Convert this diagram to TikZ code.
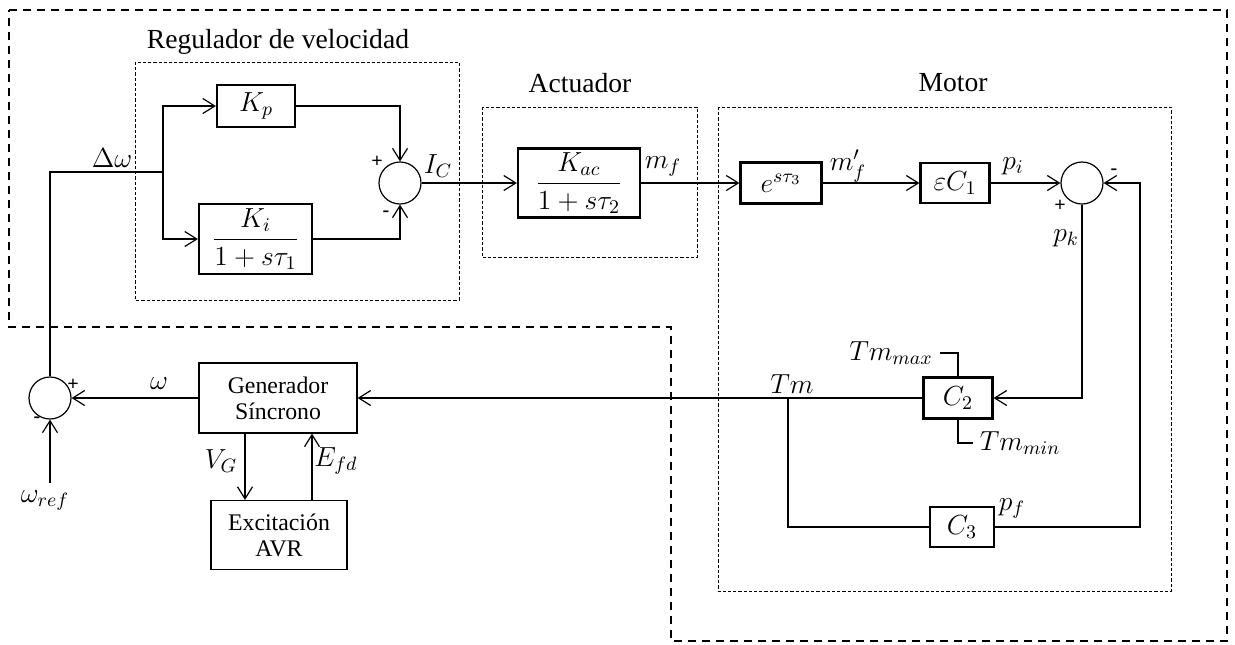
\documentclass[tikz,border=0pt]{standalone}
\usepackage{fix-cm}
\usepackage{amsmath}
\usepackage{fontspec}
\setmainfont{Liberation Serif}
\usetikzlibrary{arrows.meta}

\tikzset{
  tfbox/.style={draw, line width=1.1pt, inner sep=1pt},
  genbox/.style={draw, line width=0.6pt, align=center, inner sep=1pt,
    font=\fontsize{11.9}{13}\selectfont},
  sumnode/.style={draw, circle, line width=0.6pt, minimum size=21pt, inner sep=0pt},
  groupbox/.style={line width=0.5pt, dash pattern=on 1.6pt off 1pt},
  outerline/.style={line width=1pt, dash pattern=on 4pt off 3pt},
  sgn/.style={font=\fontsize{10}{11}\selectfont\bfseries, inner sep=0pt},
}

\begin{document}
\begin{tikzpicture}[x=0.5pt, y=-0.5pt, line width=0.6pt,
  >={Straight Barb[length=6pt,width=7.5pt]},
  every node/.append style={font=\fontsize{13.8}{16}\selectfont}]
\useasboundingbox (0,0) rectangle (1235,644);

% outer frame and groups
\draw[outerline] (9,10) -- (1227,10) -- (1227,641) -- (671,641) -- (671,327) -- (9,327) -- cycle;
\draw[groupbox] (135,62) rectangle (459,300);
\draw[groupbox] (482,107) rectangle (697,257);
\draw[groupbox] (718,107) rectangle (1171,591);
\node (treg) at (278,42) {Regulador de velocidad};
\node (tact) at (580,83) {Actuador};
\node (tmot) at (953,83) {Motor};

% regulador
\node[tfbox, minimum width=39pt, minimum height=21pt] (kp) at (256,106) {$K_p$};
\node[tfbox, minimum width=56.5pt, minimum height=35pt] (ki) at (255.5,239) {$\displaystyle\frac{K_i}{1+s\tau_1}$};
\node[sumnode] (s1) at (400,183) {};
\coordinate (br1) at (163,172);

% actuador y motor
\node[tfbox, minimum width=61pt, minimum height=34.5pt] (kac) at (579,183) {$\displaystyle\frac{K_{ac}}{1+s\tau_2}$};
\node[tfbox, minimum width=40.5pt, minimum height=20.5pt] (edel) at (781,183) {$e^{s\tau_3}$};
\node[tfbox, minimum width=34.5pt, minimum height=20pt] (ec1) at (955,183) {$\varepsilon C_1$};
\node[sumnode] (s2) at (1082,183) {};
\node[tfbox, minimum width=34.5pt, minimum height=20.5pt] (c2) at (958,398) {$C_2$};
\node[tfbox, minimum width=32pt, minimum height=20pt] (c3) at (962,527) {$C_3$};
\coordinate (tm) at (788,398);
\coordinate (fbtop) at (1140,183);
\node (tmmax) at (891,353) {$Tm_{max}$};
\node (tmmin) at (1020,443) {$Tm_{min}$};

% generador
\node[genbox, minimum width=79pt, minimum height=35pt] (gen) at (278,398) {Generador\\Síncrono};
\node[genbox, minimum width=68pt, minimum height=34.5pt] (exc) at (279,535) {Excitación\\AVR};
\node[sumnode] (s3) at (50,398) {};
\coordinate (wrefin) at (50,483);

% connectors
\draw (s3) |- (br1);
\draw[->] (br1) |- (kp);
\draw[->] (br1) |- (ki);
\draw[->] (kp) -| (s1);
\draw[->] (ki) -| (s1);
\draw[->] (s1) -- (kac);
\draw[->] (kac) -- (edel);
\draw[->] (edel) -- (ec1);
\draw[->] (ec1) -- (s2);
\draw[->] (s2) |- (c2);
\draw[->] (c3) -| (fbtop) -- (s2);
\draw (tm) |- (c3);
\draw (c2.north) |- (tmmax.east);
\draw (c2.south) |- (tmmin.west);
\draw[->] (c2) -- (gen);
\draw[->] (gen) -- (s3);
\draw[->] (wrefin) -- (s3);
\draw[->] ([xshift=-16.5pt]gen.south) -- ([xshift=-16.5pt]gen.south |- exc.north);
\draw[->] ([xshift=16.5pt]exc.north) -- ([xshift=16.5pt]exc.north |- gen.south);

% labels
\node (ldw) at (112,158) {$\Delta\omega$};
\node (lic) at (438,166) {$I_C$};
\node (lmf) at (663,166) {$m_f$};
\node (lmfp) at (848,166) {$m'_f$};
\node (lpi) at (1013,166) {$p_i$};
\node (lpk) at (1066,238) {$p_k$};
\node (ltm) at (792,384) {$Tm$};
\node (lpf) at (1012,508) {$p_f$};
\node (lw) at (159,384) {$\omega$};
\node (lvg) at (221,461) {$V_G$};
\node (lefd) at (336,461) {$E_{fd}$};
\node (lwref) at (45,500) {$\omega_{ref}$};
\node[sgn] (s1p) at (377,162) {+};
\node[sgn] (s1m) at (386,214) {-};
\node[sgn] (s2p) at (1060,206) {+};
\node[sgn] (s2m) at (1114,172) {-};
\node[sgn] (s3p) at (73,385) {+};
\node[sgn] (s3m) at (37,420) {-};
\end{tikzpicture}
\end{document}
